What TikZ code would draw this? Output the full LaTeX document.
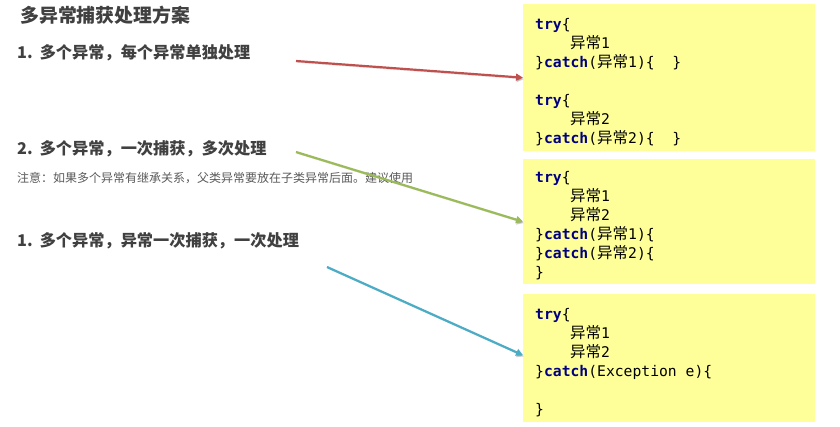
\documentclass[tikz,border=0pt]{standalone}
\usepackage{fontspec}
\usepackage{xcolor}
\setmainfont{Noto Sans CJK SC}
\newfontfamily\codefont{DejaVu Sans Mono}
\newfontfamily\cjk{Noto Sans CJK SC}
\usetikzlibrary{arrows.meta}

\definecolor{boxyellow}{RGB}{255,255,153}
\definecolor{kwblue}{RGB}{0,0,128}
\definecolor{textgray}{RGB}{64,64,64}
\definecolor{notegray}{RGB}{89,89,89}
\definecolor{arrowred}{RGB}{192,80,77}
\definecolor{arrowgreen}{RGB}{155,187,89}
\definecolor{arrowblue}{RGB}{75,172,198}

\newcommand{\kw}[1]{\textbf{\textcolor{kwblue}{#1}}}
\newcommand{\yc}[1]{{\cjk\fontsize{15.5}{19.5}\selectfont 异常}#1}
\newcommand{\ind}{\hspace*{35pt}}
\newcommand{\spc}{\hspace*{0.602em}}

\tikzset{
    codebox/.style={draw=none, fill=boxyellow, anchor=north west, align=left,
        minimum width=292pt, text width=268pt, inner xsep=12pt, inner ysep=0pt,
        font=\codefont\fontsize{14.7}{19}\selectfont,
        execute at begin node={\rule{0pt}{20pt}}},
    heading/.style={anchor=west, inner sep=0pt, text=textgray,
        font=\bfseries\fontsize{16.2}{18}\selectfont},
    link/.style={line width=2.2pt, -{Triangle[length=7pt,width=7pt]},
        preaction={draw=black, opacity=0.18, transform canvas={shift={(0.8pt,-1.4pt)}}}}
}

\begin{document}
\begin{tikzpicture}[x=1pt,y=-1pt]
    \useasboundingbox (0,0) rectangle (840,427);

    % left column
    \node[heading, font=\bfseries\fontsize{18.9}{22}\selectfont] (title) at (20,15) {多异常捕获处理方案};
    \node[heading] (way1) at (17,53) {1.\hspace{7pt}多个异常，每个异常单独处理};
    \node[heading] (way2) at (17,149) {2.\hspace{7pt}多个异常，一次捕获，多次处理};
    \node[anchor=west, inner sep=0pt, text=notegray, font=\fontsize{12}{14}\selectfont] (note) at (17,178)
        {注意：如果多个异常有继承关系，父类异常要放在子类异常后面。建议使用};
    \node[heading] (way3) at (17,241) {1.\hspace{7pt}多个异常，异常一次捕获，一次处理};

    % code boxes
    \node[codebox, minimum height=147pt] (box1) at (523,4) {%
        \kw{try}\{\\
        \ind\yc{1}\\
        \}\kw{catch}(\yc{1})\{\spc\spc\}\\
        \mbox{}\\
        \kw{try}\{\\
        \ind\yc{2}\\
        \}\kw{catch}(\yc{2})\{\spc\spc\}};
    \node[codebox, minimum height=125pt] (box2) at (523,159) {%
        \kw{try}\{\\
        \ind\yc{1}\\
        \ind\yc{2}\\
        \}\kw{catch}(\yc{1})\{\\
        \}\kw{catch}(\yc{2})\{\\
        \}};
    \node[codebox, minimum height=128pt] (box3) at (523,294) {%
        \kw{try}\{\\
        \ind\yc{1}\\
        \ind\yc{2}\\
        \}\kw{catch}(Exception\spc e)\{\\
        \mbox{}\\
        \}};

    % arrows
    \coordinate (from1) at (296,61);
    \coordinate (from2) at (296,152);
    \coordinate (from3) at (327,267);
    \draw[link, arrowred] (from1) -- (box1.west);
    \draw[link, arrowgreen] (from2) -- (box2.west);
    \draw[link, arrowblue] (from3) -- ([yshift=3pt]box3.west);
\end{tikzpicture}
\end{document}
